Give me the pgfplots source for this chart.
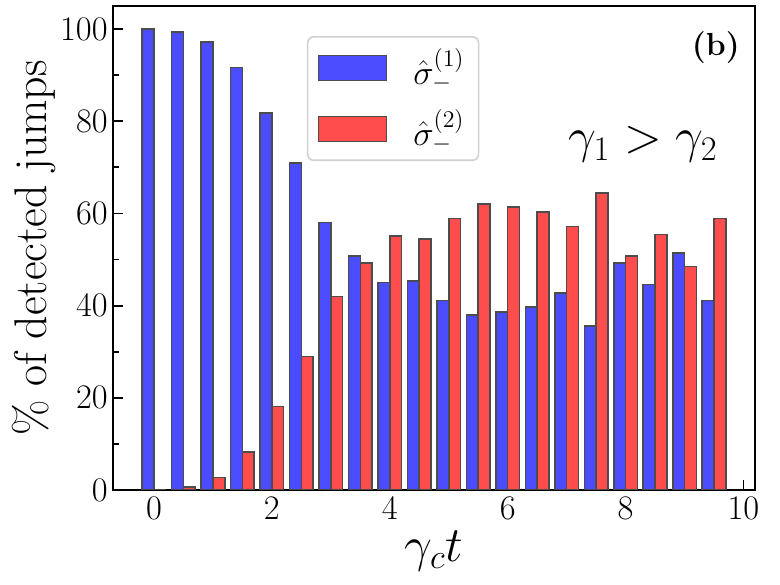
\documentclass[border=0pt]{standalone}
\usepackage{pgfplots}
\pgfplotsset{compat=1.18}
\usetikzlibrary{calc}
\pgfplotstableread{
x blue red
0.0 100.0 0.0
0.5 99.35 0.6
1.0 97.2 2.7
1.5 91.7 8.3
2.0 81.8 18.1
2.5 71.0 29.0
3.0 58.0 42.0
3.5 50.8 49.3
4.0 45.0 55.1
4.5 45.4 54.5
5.0 41.1 58.9
5.5 37.9 62.1
6.0 38.6 61.4
6.5 39.7 60.3
7.0 42.7 57.2
7.5 35.6 64.4
8.0 49.2 50.8
8.5 44.6 55.4
9.0 51.4 48.5
9.5 41.1 58.9
}\jumps
\begin{document}
\begin{tikzpicture}
\begin{axis}[
  name=ax,
  scale only axis, width=321bp, height=242bp,
  xmin=-0.695, xmax=10.195, ymin=0, ymax=105,
  xtick={0,2,...,10}, ytick={0,20,...,100}, minor ytick={10,30,...,90},
  xtick pos=left, ytick pos=left,
  tick align=inside,
  major tick length=5bp, minor tick length=3bp,
  tick style={black, line width=0.9bp},
  axis line style={line width=0.8bp},
  tick label style={font=\fontsize{16}{19}\selectfont},
  yticklabel style={inner xsep=2.5bp},
  xticklabel style={inner ysep=3.5bp},
  xlabel={$\gamma_c t$}, ylabel={\% of detected jumps},
  label style={font=\fontsize{23}{27}\selectfont},
  xlabel style={at={(axis description cs:0.5,-0.1477)}, anchor=base, inner sep=0pt},
  ylabel style={at={(axis description cs:-0.0888,0.5)}, anchor=south, inner sep=0pt},
  legend style={at={(axis description cs:0.302,0.938)}, anchor=north west,
    draw=black!18, line width=0.8bp, rounded corners=3bp, fill=white,
    font=\fontsize{18}{21}\selectfont, inner xsep=5bp, inner ysep=4bp,
    row sep=7bp, cells={anchor=west},
    /tikz/every odd column/.style={column sep=11bp}},
  legend image code/.code={\draw[#1, rounded corners=0pt] (0bp,-6.25bp) rectangle (34bp,6.25bp);},
]
\addplot[ybar, bar width=0.2, bar shift=-0.1, fill=blue!70, draw=black!70, line width=0.8bp]
  table[x=x, y=blue] {\jumps};
\addlegendentry{$\hat\sigma_-^{(1)}$}
\addplot[ybar, bar width=0.2, bar shift=0.1, fill=red!70, draw=black!70, line width=0.8bp]
  table[x=x, y=red] {\jumps};
\addlegendentry{$\hat\sigma_-^{(2)}$}
\node[anchor=center, font=\fontsize{16}{19}\selectfont\bfseries] at (axis description cs:0.939,0.9133) {(b)};
\node[anchor=base, font=\fontsize{24}{28}\selectfont] at (axis description cs:0.8255,0.6966) {$\gamma_1>\gamma_2$};
\end{axis}
\pgfresetboundingbox
\path[use as bounding box] ($(ax.south west)+(-56.5bp,-47.25bp)$) rectangle ($(ax.north east)+(12.5bp,3bp)$);
\end{tikzpicture}
\end{document}
